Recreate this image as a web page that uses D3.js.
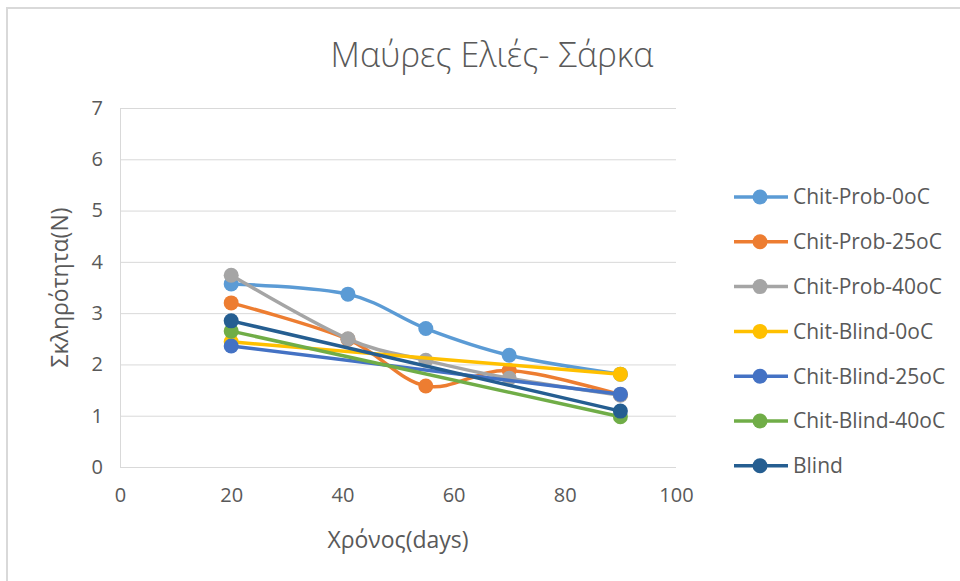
<!DOCTYPE html>
<html lang="el">
<head>
    <meta charset="UTF-8">
    <title>Μαύρες Ελιές- Σάρκα</title>
    <script src="https://d3js.org/d3.v7.min.js"></script>
    <style>
        body { margin: 0; background: #fff; }
        text { font-family: "Open Sans", "Noto Sans", sans-serif; fill: #595959; }
        .grid line { stroke: #d9d9d9; stroke-width: 1px; }
        .series path { fill: none; stroke-width: 3.5px; }
    </style>
</head>
<body>
    <div id="chart"></div>

    <script>
        // data
        const days = [20, 41, 55, 70, 90];
        const seriesNames = ["Chit-Prob-0oC", "Chit-Prob-25oC", "Chit-Prob-40oC",
            "Chit-Blind-0oC", "Chit-Blind-25oC", "Chit-Blind-40oC", "Blind"];
        const chitProb0 = [3.57, 3.37, 2.70, 2.18, 1.81];
        const chitProb25 = [3.20, 2.49, 1.58, 1.88, 1.41];
        const chitProb40 = [3.74, 2.50, 2.08, 1.73, 1.40];
        const chitBlind0 = [2.44, null, null, null, 1.81];
        const chitBlind25 = [2.36, null, null, null, 1.42];
        const chitBlind40 = [2.65, null, null, null, 0.98];
        const blind = [2.85, null, null, null, 1.09];
        const xTicks = [0, 20, 40, 60, 80, 100];
        const yTicks = [0, 1, 2, 3, 4, 5, 6, 7];
        const colors = ["#5B9BD5", "#ED7D31", "#A5A5A5", "#FFC000", "#4472C4", "#70AD47", "#255E91"];

        const allValues = [chitProb0, chitProb25, chitProb40, chitBlind0, chitBlind25, chitBlind40, blind];
        const series = seriesNames.map((name, i) => ({
            name: name,
            color: colors[i],
            points: days.map((d, j) => ({ x: d, y: allValues[i][j] })).filter(p => p.y != null)
        }));

        const width = 960, height = 581;
        const plot = { left: 120, right: 676, top: 108, bottom: 467 };

        const svg = d3.select("#chart").append("svg")
            .attr("width", width)
            .attr("height", height);

        // chart frame
        svg.append("rect")
            .attr("x", 7).attr("y", 8)
            .attr("width", width).attr("height", height)
            .attr("fill", "none")
            .attr("stroke", "#d9d9d9")
            .attr("stroke-width", 2);

        const x = d3.scaleLinear().domain([0, 100]).range([plot.left, plot.right]);
        const y = d3.scaleLinear().domain([0, 7]).range([plot.bottom, plot.top]);

        // gridlines
        svg.append("g").attr("class", "grid")
            .selectAll("line")
            .data(yTicks)
            .enter().append("line")
            .attr("x1", plot.left).attr("x2", plot.right)
            .attr("y1", d => y(d) + 0.5).attr("y2", d => y(d) + 0.5);

        svg.append("line")
            .attr("x1", plot.left + 0.5).attr("x2", plot.left + 0.5)
            .attr("y1", plot.top).attr("y2", plot.bottom)
            .attr("stroke", "#d9d9d9");

        // axes
        const xAxis = svg.append("g")
            .attr("transform", `translate(0,${plot.bottom})`)
            .call(d3.axisBottom(x).tickValues(xTicks).tickFormat(d3.format("d")).tickSize(0).tickPadding(21));
        xAxis.select(".domain").remove();
        xAxis.selectAll("text").style("font-size", "20px").attr("fill", "#595959");

        const yAxis = svg.append("g")
            .attr("transform", `translate(${plot.left},0)`)
            .call(d3.axisLeft(y).tickValues(yTicks).tickFormat(d3.format("d")).tickSize(0).tickPadding(17));
        yAxis.select(".domain").remove();
        yAxis.selectAll("text").style("font-size", "20px").attr("fill", "#595959");

        // title and axis titles
        svg.append("text")
            .attr("x", 492).attr("y", 67)
            .attr("text-anchor", "middle")
            .style("font-size", "34px")
            .style("font-weight", 300)
            .text("Μαύρες Ελιές- Σάρκα");

        svg.append("text")
            .attr("x", (plot.left + plot.right) / 2).attr("y", 548)
            .attr("text-anchor", "middle")
            .style("font-size", "23px")
            .text("Χρόνος(days)");

        svg.append("text")
            .attr("transform", `translate(68,${(plot.top + plot.bottom) / 2}) rotate(-90)`)
            .attr("text-anchor", "middle")
            .style("font-size", "23px")
            .text("Σκληρότητα(N)");

        // lines
        const line = d3.line()
            .x(d => x(d.x))
            .y(d => y(d.y))
            .curve(d3.curveCardinal.tension(0));

        const groups = svg.selectAll(".series")
            .data(series)
            .enter().append("g")
            .attr("class", "series");

        groups.append("path")
            .attr("stroke", d => d.color)
            .attr("d", d => line(d.points));

        groups.selectAll("circle")
            .data(d => d.points.map(p => ({ ...p, color: d.color })))
            .enter().append("circle")
            .attr("cx", d => x(d.x))
            .attr("cy", d => y(d.y))
            .attr("r", 7.5)
            .attr("fill", d => d.color);

        // legend
        const legend = svg.selectAll(".legend")
            .data(series)
            .enter().append("g")
            .attr("class", "legend")
            .attr("transform", (d, i) => `translate(734,${197 + i * 44.8})`);

        legend.append("line")
            .attr("x1", 0).attr("x2", 54)
            .attr("stroke", d => d.color)
            .attr("stroke-width", 3.5);

        legend.append("circle")
            .attr("cx", 26).attr("r", 7.5)
            .attr("fill", d => d.color);

        legend.append("text")
            .attr("x", 59).attr("dy", "0.35em")
            .style("font-size", "21px")
            .text(d => d.name);
    </script>
</body>
</html>
